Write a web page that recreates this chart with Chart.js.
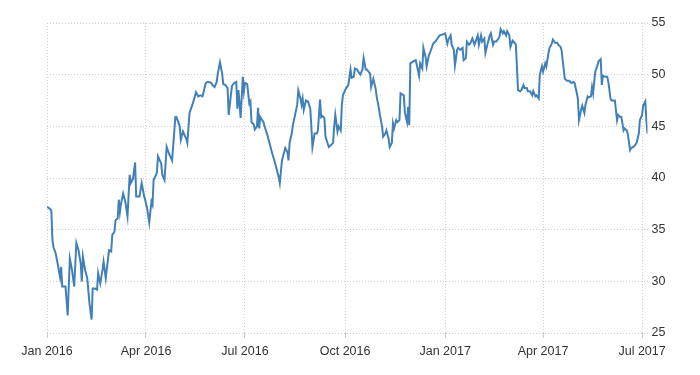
<!DOCTYPE html>
<html>
<head>
<meta charset="utf-8">
<script src="https://cdn.jsdelivr.net/npm/chart.js@4.4.1/dist/chart.umd.min.js"></script>
<style>
  html, body { margin: 0; padding: 0; background: #ffffff; }
  #wrap { width: 700px; height: 375px; }
</style>
</head>
<body>
<div id="wrap"><canvas id="c" width="700" height="375"></canvas></div>
<script>
// Days since 2016-01-01
const dayOffsets = [
  0,3,4,5,6,8,10,12,13,14,17,19,21,23,25,27,29,31,32,33,35,37,39,41,42,44,46,47,49,51,52,54,56,57,59,60,62,63,65,66,67,68,70,72,74,76,77,79,81,82,85,87,89,92,94,
  96,97,98,101,102,105,106,108,110,112,115,118,119,122,123,125,128,129,131,132,134,137,139,141,143,145,146,148,151,152,154,156,157,159,161,162,164,166,167,169,170,172,174,175,176,178,180,181,182,184,186,187,188,190,191,193,194,195,196,199,200,203,205,207,209,210,211,213,214,216,217,219,221,222,223,225,226,228,230,231,233,234,235,236,238,240,242,243,244,246,248,249,251,252,253,255,256,259,261,263,264,265,267,268,270,271,272,275,277,279,280,282,283,285,286,288,290,291,293,294,297,298,300,302,303,305,306,308,309,311,312,314,315,317,318,319,321,322,324,325,328,329,331,332,333,334,337,339,340,342,343,345,346,348,349,351,352,354,355,357,359,361,364,366,368,369,371,372,374,375,377,378,380,382,383,385,386,388,389,391,393,394,396,397,399,400,402,403,405,407,408,410,411,413,415,416,417,419,420,422,423,425,426,428,429,431,433,435,436,438,439,441,442,444,446,447,449,450,452,453,455,456,458,459,461,462,464,465,467,469,470,472,473,475,476,478,480,482,484,485,487,488,489,491,492,494,495,497,498,500,501,502,503,504,506,507,509,510,511,513,515,516,518,519,521,522,524,525,527,528,530,531,533,534,536,537,539,540,542,544,545,547,548,550,551,552
];
const values = [
  37.2,37.0,36.8,34.0,33.3,32.7,31.6,30.4,31.4,29.5,29.5,26.7,32.2,31.1,29.5,33.7,33.0,31.7,30.0,32.4,31.1,30.3,27.9,26.3,29.3,29.3,29.2,30.8,29.8,31.1,31.9,30.3,32.1,33.0,32.9,34.5,34.8,35.9,36.1,37.9,36.7,37.5,38.5,37.7,36.3,40.3,39.5,39.9,41.5,38.2,38.2,39.5,38.4,37.1,35.7,
  37.7,37.4,39.8,40.5,42.1,41.4,40.3,39.8,43.0,42.4,41.7,45.9,45.9,45.0,43.7,44.5,43.8,43.4,46.3,46.6,47.2,48.3,47.9,48.0,47.9,48.8,49.2,49.3,49.2,49.0,48.8,49.3,50.1,51.2,50.1,49.1,49.0,48.7,46.1,48.0,48.9,49.2,49.3,46.7,48.5,45.8,49.8,48.4,49.2,49.1,47.2,47.4,45.4,45.2,44.7,45.0,46.8,44.8,45.9,45.4,45.0,44.0,43.2,42.4,41.7,41.3,40.9,40.1,39.5,41.7,42.1,42.9,42.5,41.7,43.4,44.3,45.1,46.1,47.1,48.5,47.7,47.1,47.7,46.6,47.5,47.4,46.7,45.0,43.0,44.3,44.3,44.6,47.6,45.9,46.0,45.8,44.0,43.0,43.2,43.4,45.0,46.1,44.5,45.0,44.6,47.0,48.0,48.7,49.0,50.5,49.7,49.8,50.6,50.5,50.3,50.0,50.5,51.6,50.5,50.5,50.1,48.8,49.6,48.7,47.9,46.8,46.1,45.0,44.0,44.3,44.6,43.8,43.0,43.4,45.3,44.8,45.6,45.4,45.6,48.2,48.0,46.3,45.4,46.9,45.1,51.1,51.3,51.4,50.9,49.9,51.1,50.6,52.6,51.7,50.8,51.9,52.1,52.7,53.0,53.2,53.5,53.8,53.9,54.0,53.0,53.4,53.8,52.9,52.4,50.9,52.4,52.6,52.4,52.6,51.4,51.6,53.2,52.9,53.0,53.5,52.9,53.2,53.8,52.9,53.8,53.2,53.5,52.1,53.0,53.8,54.0,52.9,53.2,53.2,53.5,53.7,54.4,54.0,54.2,53.8,54.2,53.8,52.7,53.3,53.2,52.9,48.5,48.4,48.5,49.0,48.7,48.7,48.4,48.4,48.0,48.4,47.9,48.0,47.7,50.0,50.8,50.3,51.1,50.8,52.1,52.6,53.0,53.4,53.1,53.1,52.9,52.7,52.4,50.5,49.6,49.4,49.4,49.2,49.3,49.2,48.2,47.7,45.6,46.6,47.0,46.3,47.1,47.9,47.8,47.9,48.8,48.2,49.3,50.3,50.9,51.3,51.5,49.0,49.9,49.8,49.8,49.3,47.7,47.5,47.5,47.5,45.6,46.1,45.9,45.9,44.6,44.8,44.6,44.2,42.7,42.9,43.0,43.1,43.4,44.3,45.6,46.1,47.0,47.4,45.5,44.3
];
const xTickDays = [0, 91, 182, 274, 366, 456, 547];
const xTickLabels = ['Jan 2016', 'Apr 2016', 'Jul 2016', 'Oct 2016', 'Jan 2017', 'Apr 2017', 'Jul 2017'];
const yTicks = [25, 30, 35, 40, 45, 50, 55];
const lastDay = 552;

const points = dayOffsets.map((d, i) => ({ x: d, y: values[i] }));
const fontFamily = '"Liberation Sans Narrow", "Arial Narrow", "Liberation Sans", Arial, sans-serif';
const gridColor = '#cfcfcf';

new Chart(document.getElementById('c'), {
  type: 'line',
  data: {
    datasets: [{
      data: points,
      borderColor: '#4280b8',
      borderWidth: 2,
      pointRadius: 0,
      tension: 0,
      fill: false
    }]
  },
  options: {
    responsive: false,
    animation: false,
    events: [],
    layout: { padding: { left: 47, top: 23, right: 0, bottom: 0 } },
    plugins: { legend: { display: false }, tooltip: { enabled: false } },
    scales: {
      x: {
        type: 'linear',
        min: xTickDays[0],
        max: lastDay,
        afterBuildTicks: (s) => { s.ticks = xTickDays.map(v => ({ value: v })); },
        afterFit: (s) => { s.height = 42; },
        ticks: {
          autoSkip: false,
          maxRotation: 0,
          padding: 6,
          color: '#333333',
          font: { family: fontFamily, size: 12.5 },
          callback: (v) => { const i = xTickDays.indexOf(v); return i >= 0 ? xTickLabels[i] : ''; }
        },
        grid: { color: gridColor, lineWidth: 1, drawTicks: true, tickLength: 5, tickColor: '#cccccc', tickBorderDash: [] },
        border: { display: false, dash: [1, 2] }
      },
      y: {
        position: 'right',
        min: 25,
        max: 55,
        afterBuildTicks: (s) => { s.ticks = yTicks.map(v => ({ value: v })); },
        afterFit: (s) => { s.width = 52.5; },
        ticks: {
          padding: 4,
          color: '#333333',
          font: { family: fontFamily, size: 12.5 }
        },
        grid: { color: gridColor, lineWidth: 1, drawTicks: false },
        border: { display: false, dash: [1, 2] }
      }
    }
  }
});
</script>
</body>
</html>
